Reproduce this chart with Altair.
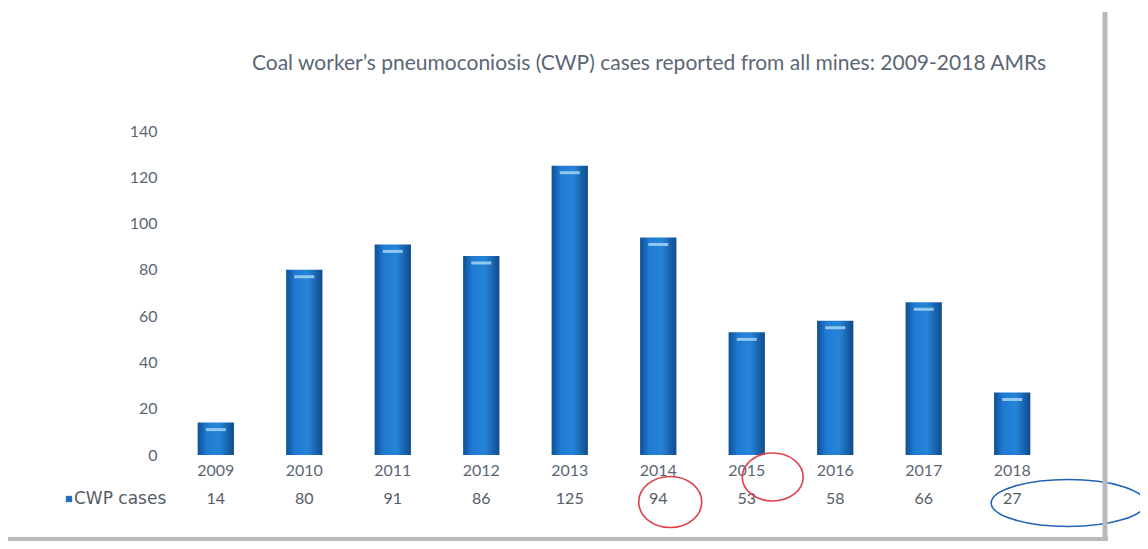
import altair as alt
import pandas as pd

years = ["2009", "2010", "2011", "2012", "2013", "2014", "2015", "2016", "2017", "2018"]
cases = [14, 80, 91, 86, 125, 94, 53, 58, 66, 27]
y_ticks = [0, 20, 40, 60, 80, 100, 120, 140]
series_name = "CWP cases"
title_text = "Coal worker\u2019s pneumoconiosis (CWP) cases reported from all mines: 2009-2018 AMRs"

df = pd.DataFrame({"year": years, "cases": cases})

W, H = 884, 324
FONT = "Lato"
TXT = "#5b6676"

x_enc = alt.X("year:N", sort=years,
              scale=alt.Scale(paddingInner=0.59, paddingOuter=0.29),
              axis=alt.Axis(title=None, domain=False, ticks=False, labelAngle=0,
                            labelFont=FONT, labelFontSize=16, labelColor=TXT,
                            labelPadding=7))
y_enc = alt.Y("cases:Q", scale=alt.Scale(domain=[0, 140], nice=False),
              axis=alt.Axis(title=None, values=y_ticks, domain=False, ticks=False,
                            grid=False, labelFont=FONT, labelFontSize=16,
                            labelColor=TXT, labelPadding=15))

base = alt.Chart(df)

bars = base.mark_bar(
    color=alt.Gradient(
        gradient="linear", x1=0, x2=1, y1=0, y2=0,
        stops=[alt.GradientStop(offset=0, color="#0f4f96"),
               alt.GradientStop(offset=0.25, color="#1f7bd2"),
               alt.GradientStop(offset=0.6, color="#2584d8"),
               alt.GradientStop(offset=1, color="#104a8c")]),
).encode(x=x_enc, y=y_enc)

highlight = base.mark_tick(color="#a6d4f5", opacity=0.85, thickness=3, size=20,
                           yOffset=7).encode(x=alt.X("year:N", sort=years), y="cases:Q")

values_row = base.mark_text(font=FONT, fontSize=16, color="#555c66",
                            baseline="middle").encode(
    x=alt.X("year:N", sort=years), y=alt.value(H + 44), text="cases:Q")

title_df = pd.DataFrame({"t": [title_text]})
title = alt.Chart(title_df).mark_text(
    font=FONT, fontSize=21, color=TXT, align="center", baseline="alphabetic"
).encode(x=alt.value(477), y=alt.value(-61), text="t:N")

legend_df = pd.DataFrame({"name": [series_name]})
legend_text = alt.Chart(legend_df).mark_text(
    font="DejaVu Sans", fontSize=17, color="#555c66", align="left", baseline="middle"
).encode(x=alt.value(-98), y=alt.value(H + 44), text="name:N")
legend_sym = alt.Chart(legend_df).mark_square(size=40, color="#1f6fc0", opacity=1).encode(
    x=alt.value(-103), y=alt.value(H + 44))

def ellipse(year, dx, dy, w, h, color):
    ry = h / w
    path = f"M -1 0 A 1 {ry:.3f} 0 1 1 1 0 A 1 {ry:.3f} 0 1 1 -1 0 Z"
    return alt.Chart(pd.DataFrame({"year": [year]})).mark_point(
        shape=path, size=w * w, filled=False, stroke=color, strokeWidth=1.6,
        opacity=1, xOffset=dx).encode(x=alt.X("year:N", sort=years),
                                       y=alt.value(dy))

ann1 = ellipse("2014", 12, H + 47, 63, 51, "#e0404a")
ann2 = ellipse("2015", 26, H + 22, 61, 48, "#e0404a")
ann3 = ellipse("2018", 56, H + 48, 154, 47, "#1f63b8")

frame_df = pd.DataFrame({"k": [0]})
right_line = alt.Chart(frame_df).mark_rule(color="#b9b9b9", strokeWidth=5).encode(
    x=alt.value(W + 49), y=alt.value(-119), y2=alt.value(H + 86))
bottom_line = alt.Chart(frame_df).mark_rule(color="#b9b9b9", strokeWidth=4).encode(
    x=alt.value(-172), x2=alt.value(W + 52), y=alt.value(H + 84))

chart = alt.layer(
    bars, highlight, values_row, title, legend_text, legend_sym,
    ann1, ann2, ann3, right_line, bottom_line
).properties(
    width=W, height=H,
    padding={"left": 164, "top": 123, "right": 84, "bottom": 86},
    autosize=alt.AutoSizeParams(type="none"),
).configure_view(stroke=None)

chart.save("out.html", embed_options={"renderer": "svg", "actions": False})
